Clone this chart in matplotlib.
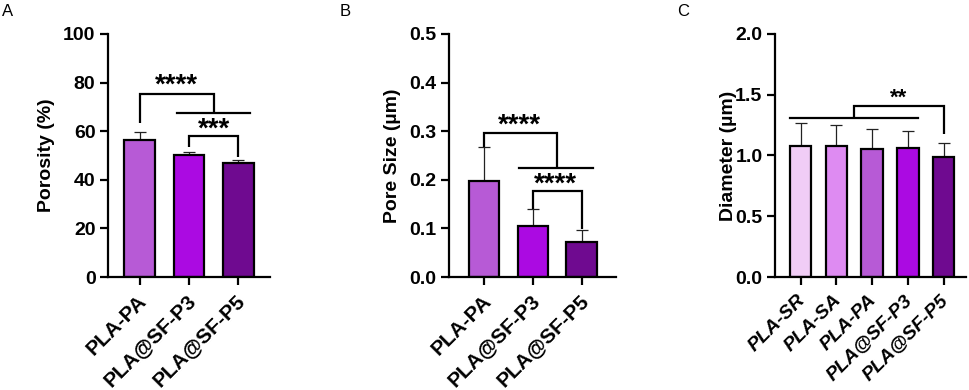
import matplotlib
matplotlib.use("Agg")
import matplotlib.pyplot as plt
from matplotlib.transforms import offset_copy, ScaledTranslation

# panel A - porosity
groups_ab = ["PLA-PA", "PLA@SF-P3", "PLA@SF-P5"]
porosity = [56.5, 50.0, 47.0]
porosity_sd = [3.0, 1.3, 1.2]

# panel B - pore size
pore_size = [0.197, 0.104, 0.073]
pore_size_sd = [0.070, 0.035, 0.023]

# panel C - fiber diameter
groups_c = ["PLA-SR", "PLA-SA", "PLA-PA", "PLA@SF-P3", "PLA@SF-P5"]
diameter = [1.08, 1.08, 1.05, 1.06, 0.99]
diameter_sd = [0.19, 0.17, 0.17, 0.14, 0.11]

colors_ab = ["#b75ad6", "#ab0ae2", "#6f0a90"]
colors_c = ["#f1cdf6", "#de8bf2", "#b75ad6", "#ab0ae2", "#6f0a90"]

BOLD = ["Liberation Sans", "DejaVu Sans"]
NARROW = ["Liberation Sans Narrow", "Liberation Sans", "DejaVu Sans"]

fig = plt.figure(figsize=(9.69, 3.9), dpi=100)


def style_axes(ax, ticks, ticklabels, italic=False, xfam=BOLD, xsize=15, dx=4):
    for s in ["top", "right"]:
        ax.spines[s].set_visible(False)
    for s in ["left", "bottom"]:
        ax.spines[s].set_linewidth(1.6)
    ax.tick_params(axis="both", length=6, width=1.6, pad=3)
    ax.tick_params(axis="x", pad=9)
    ax.set_yticks(ticks)
    ax.set_yticklabels(ticklabels, fontsize=14, fontweight="bold", family=BOLD)
    shift = ScaledTranslation(dx / 100, 0, fig.dpi_scale_trans)
    for lab in ax.get_xticklabels():
        lab.set_rotation(45)
        lab.set_ha("right")
        lab.set_va("center")
        lab.set_rotation_mode("anchor")
        lab.set_fontsize(xsize)
        lab.set_fontweight("bold")
        lab.set_family(xfam)
        lab.set_transform(lab.get_transform() + shift)
        if italic:
            lab.set_style("italic")


def bars(ax, names, vals, sds, cols, width):
    x = list(range(len(names)))
    ax.bar(x, vals, width=width, color=cols, edgecolor="black", linewidth=1.6, zorder=2)
    ax.errorbar(x, vals, yerr=[[0] * len(vals), sds], fmt="none", ecolor="#222222",
                elinewidth=0.9, capsize=4.3, capthick=0.9, zorder=1)
    ax.set_xticks(x)
    ax.set_xticklabels(names)


def bracket(ax, x1, x2, y, y1, y2):
    ax.plot([x1, x1, x2, x2], [y1, y, y, y2], color="black", lw=1.6,
            solid_capstyle="butt", solid_joinstyle="miter", clip_on=False)


def stars(ax, x, y, s, size=20):
    # asterisk ink sits high above the baseline, so shift down to centre it on y
    tr = offset_copy(ax.transData, fig=fig, y=-0.59 * size, units="points")
    ax.text(x, y, s, ha="center", va="baseline", fontsize=size, fontweight="bold",
            family=BOLD, transform=tr)


# ---- A ----
axA = fig.add_axes([108 / 969, 113 / 390, 162 / 969, 243 / 390])
bars(axA, groups_ab, porosity, porosity_sd, colors_ab, 0.63)
axA.set_xlim(-0.65, 2.65)
axA.set_ylim(0, 100)
style_axes(axA, [0, 20, 40, 60, 80, 100], ["0", "20", "40", "60", "80", "100"])
axA.set_ylabel("Porosity (%)", fontsize=14, fontweight="bold", family=BOLD, labelpad=6)
bracket(axA, 0, 1.5, 75.3, 63.2, 67.6)
axA.plot([0.75, 2.25], [67.6, 67.6], color="black", lw=1.6)
stars(axA, 0.745, 82.5, "****")
bracket(axA, 1, 2, 58.0, 53.6, 49.2)
stars(axA, 1.5, 64.5, "***")

# ---- B ----
axB = fig.add_axes([449 / 969, 113 / 390, 167 / 969, 243 / 390])
bars(axB, groups_ab, pore_size, pore_size_sd, colors_ab, 0.62)
axB.set_xlim(-0.73, 2.71)
axB.set_ylim(0, 0.5)
style_axes(axB, [0, 0.1, 0.2, 0.3, 0.4, 0.5],
           ["0.0", "0.1", "0.2", "0.3", "0.4", "0.5"])
axB.set_ylabel("Pore Size (µm)", fontsize=14, fontweight="bold", family=BOLD, labelpad=6)
bracket(axB, 0, 1.5, 0.296, 0.267, 0.225)
axB.plot([0.72, 2.24], [0.225, 0.225], color="black", lw=1.6)
stars(axB, 0.71, 0.33, "****")
bracket(axB, 1, 2, 0.176, 0.140, 0.098)
stars(axB, 1.47, 0.209, "****")

# ---- C ----
axC = fig.add_axes([775 / 969, 113 / 390, 191 / 969, 243 / 390])
bars(axC, groups_c, diameter, diameter_sd, colors_c, 0.6)
axC.set_xlim(-0.72, 4.63)
axC.set_ylim(0, 2.0)
style_axes(axC, [0, 0.5, 1.0, 1.5, 2.0], ["0.0", "0.5", "1.0", "1.5", "2.0"],
           italic=True, xfam=NARROW, xsize=14, dx=2)
axC.set_ylabel("Diameter (µm)", fontsize=14, fontweight="bold", family=BOLD, labelpad=-1)
axC.plot([-0.3, 3.28], [1.306, 1.306], color="black", lw=1.6)
bracket(axC, 1.49, 4, 1.41, 1.306, 1.18)
stars(axC, 2.73, 1.53, "**", size=16)

# panel letters
for lx, letter in [(2, "A"), (340, "B"), (677, "C")]:
    fig.text(lx / 969, 1 - 12 / 390, letter, fontsize=12, va="center", ha="left",
             family=BOLD)

fig.savefig("out.png", dpi=100)
